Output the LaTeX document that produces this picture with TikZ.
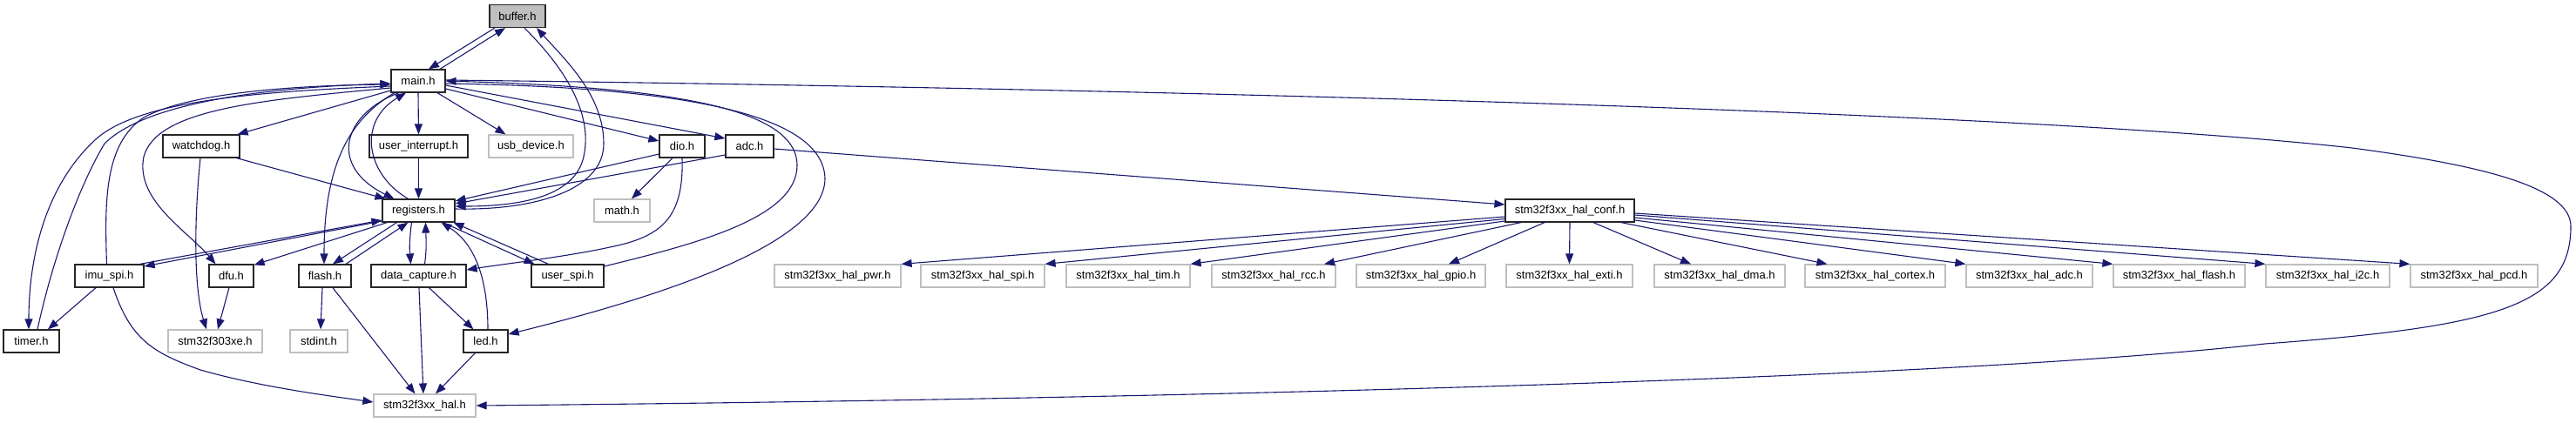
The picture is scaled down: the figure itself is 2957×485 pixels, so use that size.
\documentclass[tikz,border=0pt]{standalone}
\usepackage{fontspec}
\setmainfont{Liberation Sans}
\usetikzlibrary{arrows.meta}
\definecolor{edgeblue}{HTML}{191970}
\definecolor{grey75}{HTML}{BFBFBF}
\tikzset{
  box/.style={rectangle, inner sep=0pt, minimum height=26pt, line width=1.2pt, fill=white,
    font=\fontsize{13pt}{15pt}\selectfont, text=black},
  docbox/.style={box, draw=black!85},
  extbox/.style={box, draw=grey75},
  selfbox/.style={box, draw=black!85, fill=grey75},
  edge/.style={draw=edgeblue, line width=1.1pt, -{Triangle[length=12pt,width=9pt]}, fill=none},
}
\begin{document}
\begin{tikzpicture}[x=1pt, y=-1pt]
\useasboundingbox (0,0) rectangle (2957,485);
% nodes
\node[selfbox, minimum width=64pt] (buffer) at (594,18.5) {buffer.h};
\node[docbox, minimum width=62pt] (main) at (480,93) {main.h};
\node[docbox, minimum width=88pt] (watchdog) at (231,168) {watchdog.h};
\node[docbox, minimum width=113pt] (uint) at (480.5,168) {user\_interrupt.h};
\node[extbox, minimum width=97pt] (usb) at (609.5,168) {usb\_device.h};
\node[docbox, minimum width=52pt] (dio) at (783,168) {dio.h};
\node[docbox, minimum width=55pt] (adc) at (860.5,168) {adc.h};
\node[docbox, minimum width=83pt] (reg) at (480.5,242) {registers.h};
\node[extbox, minimum width=64pt] (math) at (714,242) {math.h};
\node[docbox, minimum width=148pt] (conf) at (1802,242) {stm32f3xx\_hal\_conf.h};
\node[docbox, minimum width=79pt] (imu) at (125.5,317) {imu\_spi.h};
\node[docbox, minimum width=51pt] (dfu) at (265.5,317) {dfu.h};
\node[docbox, minimum width=60pt] (flash) at (373,317) {flash.h};
\node[docbox, minimum width=109pt] (dcap) at (480.5,317) {data\_capture.h};
\node[docbox, minimum width=83pt] (uspi) at (651.5,317) {user\_spi.h};
\node[extbox, minimum width=145pt] (hpwr) at (961.5,317) {stm32f3xx\_hal\_pwr.h};
\node[extbox, minimum width=142pt] (hspi) at (1128,317) {stm32f3xx\_hal\_spi.h};
\node[extbox, minimum width=142pt] (htim) at (1295,317) {stm32f3xx\_hal\_tim.h};
\node[extbox, minimum width=142pt] (hrcc) at (1462,317) {stm32f3xx\_hal\_rcc.h};
\node[extbox, minimum width=148pt] (hgpio) at (1631,317) {stm32f3xx\_hal\_gpio.h};
\node[extbox, minimum width=145pt] (hexti) at (1801.5,317) {stm32f3xx\_hal\_exti.h};
\node[extbox, minimum width=150pt] (hdma) at (1974,317) {stm32f3xx\_hal\_dma.h};
\node[extbox, minimum width=161pt] (hcortex) at (2152.5,317) {stm32f3xx\_hal\_cortex.h};
\node[extbox, minimum width=145pt] (hadc) at (2329.5,317) {stm32f3xx\_hal\_adc.h};
\node[extbox, minimum width=151pt] (hflash) at (2501.5,317) {stm32f3xx\_hal\_flash.h};
\node[extbox, minimum width=142pt] (hi2c) at (2672,317) {stm32f3xx\_hal\_i2c.h};
\node[extbox, minimum width=146pt] (hpcd) at (2840,317) {stm32f3xx\_hal\_pcd.h};
\node[docbox, minimum width=64pt] (timer) at (36,392) {timer.h};
\node[extbox, minimum width=108pt] (f303) at (247,392) {stm32f303xe.h};
\node[extbox, minimum width=66pt] (stdint) at (366,392) {stdint.h};
\node[docbox, minimum width=51pt] (led) at (557.5,392) {led.h};
\node[extbox, minimum width=117pt] (hal) at (487.5,466) {stm32f3xx\_hal.h};
% edges
\draw[edge] ([xshift=-26pt]buffer.south) -- ([xshift=12pt]main.north);
\draw[edge] ([xshift=25pt]main.north) -- ([xshift=-14pt]buffer.south);
\draw[edge] ([xshift=8pt]buffer.south) .. controls (655,85) and (680,135) .. (670,180) .. controls (660,225) and (600,237) .. ([yshift=5pt]reg.east);
\draw[edge] ([yshift=2pt]reg.east) .. controls (610,242) and (693,220) .. (693,165) .. controls (693,110) and (650,70) .. ([xshift=22pt]buffer.south);
\draw[edge] (main.south) -- (uint.north);
\draw[edge] (uint.south) -- (reg.north);
\draw[edge] ([xshift=22pt]main.south) -- ([xshift=-29pt]usb.north);
\draw[edge] ([yshift=-9pt]main.east) -- ([yshift=6pt]dio.west);
\draw[edge] ([yshift=-5pt]main.east) -- ([yshift=9pt]adc.west);
\draw[edge] ([yshift=-11pt]main.west) -- ([xshift=-3pt]watchdog.north east);
\draw[edge] ([xshift=-4pt]watchdog.south east) -- ([xshift=-38pt]reg.north);
\draw[edge] ([xshift=-22pt]main.south) .. controls (395,130) and (375,190) .. ([xshift=-28pt]reg.north);
\draw[edge] ([xshift=-12pt]reg.north) .. controls (420,200) and (410,140) .. ([xshift=-14pt]main.south);
\draw[edge] ([yshift=-6pt]main.west) .. controls (300,105) and (160,115) .. (110,160) .. controls (50,215) and (33,300) .. ([xshift=-3pt]timer.north);
\draw[edge] ([xshift=7pt]timer.north) .. controls (60,300) and (90,215) .. (120,165) .. controls (170,115) and (320,100) .. ([yshift=-3pt]main.west);
\draw[edge] ([xshift=-3pt]imu.north) .. controls (120,230) and (120,165) .. (165,135) .. controls (220,105) and (350,98) .. ([yshift=-4pt]main.west);
\draw[edge] ([yshift=-8pt]main.west) .. controls (300,115) and (180,125) .. (165,180) .. controls (155,230) and (215,265) .. ([xshift=-18pt]dfu.north);
\draw[edge] ([xshift=-27pt]main.south) .. controls (395,140) and (372,200) .. ([xshift=-1pt]flash.north);
\draw[edge] ([yshift=-3pt]main.east) .. controls (780,100) and (945,130) .. (947,205) .. controls (947,290) and (700,355) .. ([yshift=8pt]led.east);
\draw[edge] ([yshift=11pt]uspi.east) .. controls (800,280) and (915,250) .. (915,190) .. controls (915,120) and (750,100) .. (main.east);
\draw[edge] ([yshift=1pt]main.east) .. controls (1200,100) and (2300,125) .. (2700,170) .. controls (2850,190) and (2951,215) .. (2951,260) .. controls (2951,350) and (2870,375) .. (2600,395) .. controls (2200,440) and (1200,460) .. (hal.east);
\draw[edge] ([yshift=-9pt]dio.west) -- ([yshift=11pt]reg.east);
\draw[edge] ([yshift=-10pt]adc.west) -- ([yshift=8pt]reg.east);
\draw[edge] ([yshift=-3pt]adc.east) -- ([yshift=7pt]conf.west);
\draw[edge] ([xshift=-11pt]dio.south) -- ([xshift=11pt]math.north);
\draw[edge] (dio.south) .. controls (785,250) and (760,272) .. (700,284) .. controls (650,295) and (580,303) .. ([yshift=7pt]dcap.east);
\draw[edge] ([xshift=-5pt]imu.north east) -- ([yshift=-11pt]reg.west);
\draw[edge] ([yshift=-12pt]reg.west) -- ([yshift=11pt]imu.east);
\draw[edge] ([xshift=-36pt]reg.south) -- ([yshift=-1pt]dfu.north east);
\draw[edge] ([xshift=-25pt]reg.south) -- ([xshift=9pt]flash.north);
\draw[edge] ([xshift=24pt]flash.north) -- ([xshift=-12pt]reg.south);
\draw[edge] ([xshift=-8pt]reg.south) .. controls (470,275) and (470,285) .. ([xshift=-9pt]dcap.north);
\draw[edge] ([xshift=7pt]dcap.north) .. controls (490,285) and (489,275) .. ([xshift=8pt]reg.south);
\draw[edge] ([xshift=28pt]reg.south) -- ([xshift=-38pt]uspi.north);
\draw[edge] ([xshift=-22pt]uspi.north) -- ([xshift=40pt]reg.south);
\draw[edge] ([xshift=2.5pt]led.north) .. controls (560,320) and (545,280) .. ([xshift=26pt]reg.south);
\draw[edge] ([xshift=12pt]dcap.south) -- ([xshift=-14pt]led.north);
\draw[edge] ([xshift=0.5pt]dcap.south) -- ([xshift=-1.5pt]hal.north);
\draw[edge] ([xshift=-12pt]led.south) -- ([xshift=12.5pt]hal.north);
\draw[edge] ([xshift=9pt]flash.south) -- ([xshift=-11pt]hal.north);
\draw[edge] ([xshift=-3pt]flash.south) -- ([xshift=2pt]stdint.north);
\draw[edge] ([xshift=-15.5pt]imu.south) -- ([xshift=19pt]timer.north);
\draw[edge] ([xshift=4.5pt]imu.south) .. controls (150,390) and (175,405) .. (230,425) .. controls (300,445) and (380,455) .. ([yshift=4pt]hal.west);
\draw[edge] ([xshift=-2.5pt]dfu.south) -- ([xshift=3pt]f303.north);
\draw[edge] ([xshift=-1pt]watchdog.south) .. controls (223,250) and (222,330) .. ([xshift=-10pt]f303.north);
% hal_conf fan-out
\draw[edge] ([yshift=-7pt]conf.west) -- (hpwr.north east);
\draw[edge] ([yshift=-9.5pt]conf.west) -- (hspi.north east);
\draw[edge] ([yshift=-12pt]conf.west) -- (htim.north east);
\draw[edge] ([xshift=-56pt]conf.south) -- ([xshift=58pt]hrcc.north);
\draw[edge] ([xshift=-29pt]conf.south) -- ([xshift=32pt]hgpio.north);
\draw[edge] (conf.south) -- (hexti.north);
\draw[edge] ([xshift=27pt]conf.south) -- ([xshift=-33pt]hdma.north);
\draw[edge] ([xshift=59pt]conf.south) -- ([xshift=-55pt]hcortex.north);
\draw[edge] ([yshift=-11pt]conf.east) -- (hadc.north west);
\draw[edge] ([yshift=-8pt]conf.east) -- (hflash.north west);
\draw[edge] ([yshift=-5pt]conf.east) -- (hi2c.north west);
\draw[edge] ([yshift=-3pt]conf.east) -- (hpcd.north west);
\end{tikzpicture}
\end{document}
